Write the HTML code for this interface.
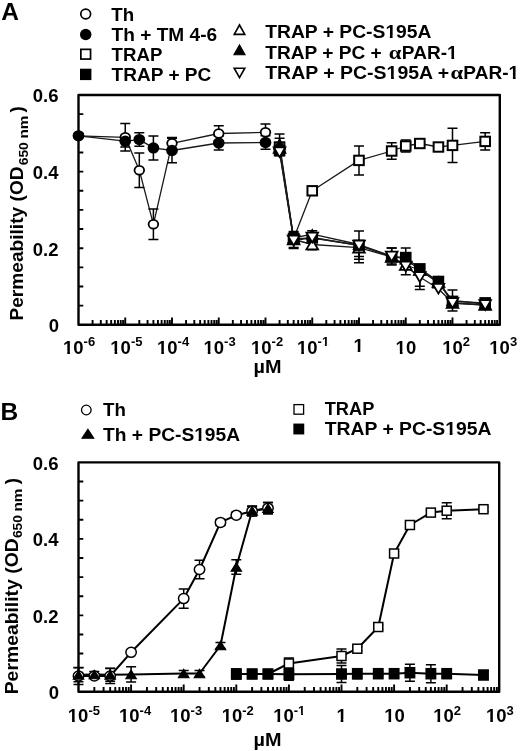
<!DOCTYPE html>
<html><head><meta charset="utf-8"><style>
html,body{margin:0;padding:0;background:#fff;width:520px;height:751px;overflow:hidden}
svg{display:block;will-change:transform}
</style></head><body>
<svg width="520" height="751" viewBox="0 0 520 751" font-family='"Liberation Sans", sans-serif' font-weight="bold">
<rect width="520" height="751" fill="#fff"/>
<text x="1.2" y="19.6" font-size="24.5" text-anchor="start">A</text>
<ellipse cx="85.70" cy="14.00" rx="4.90" ry="4.80" fill="#fff" stroke="#000" stroke-width="1.7"/>
<ellipse cx="85.70" cy="34.50" rx="5.75" ry="5.65" fill="#000"/>
<rect x="80.85" y="49.35" width="9.70" height="9.70" fill="#fff" stroke="#000" stroke-width="1.7"/>
<rect x="80.00" y="68.70" width="11.40" height="11.40" fill="#000"/>
<text x="111.33" y="20.5" font-size="17.5" textLength="22.84" lengthAdjust="spacingAndGlyphs">Th</text>
<text x="111.63" y="40.5" font-size="17.5" textLength="105.55" lengthAdjust="spacingAndGlyphs">Th + TM 4-6</text>
<text x="111.63" y="60.7" font-size="17.5" textLength="50.71" lengthAdjust="spacingAndGlyphs">TRAP</text>
<text x="111.63" y="80.8" font-size="17.5" textLength="99.66" lengthAdjust="spacingAndGlyphs">TRAP + PC</text>
<polygon points="234.20,34.40 244.80,34.40 239.50,25.00" fill="#fff" stroke="#000" stroke-width="1.6" stroke-linejoin="miter"/>
<polygon points="233.90,54.70 245.10,54.70 239.50,44.90" fill="#000" stroke="#000" stroke-width="1.08" stroke-linejoin="miter"/>
<polygon points="234.20,68.20 244.80,68.20 239.50,77.60" fill="#fff" stroke="#000" stroke-width="1.6" stroke-linejoin="miter"/>
<text x="265.22" y="37.9" font-size="17.5" textLength="166.27" lengthAdjust="spacingAndGlyphs">TRAP + PC-S195A</text>
<text x="265.23" y="58.8" font-size="17.5" textLength="116.59" lengthAdjust="spacingAndGlyphs">TRAP + PC +</text>
<text x="388.73" y="59.2" font-size="18.4" textLength="12.63" lengthAdjust="spacingAndGlyphs" font-family="Liberation Serif">α</text>
<text x="401.88" y="58.8" font-size="17.5" textLength="55.73" lengthAdjust="spacingAndGlyphs">PAR-1</text>
<text x="265.22" y="78.7" font-size="17.5" textLength="183.98" lengthAdjust="spacingAndGlyphs">TRAP + PC-S195A +</text>
<text x="450.43" y="79.1" font-size="18.4" textLength="12.63" lengthAdjust="spacingAndGlyphs" font-family="Liberation Serif">α</text>
<text x="463.38" y="78.7" font-size="17.5" textLength="55.73" lengthAdjust="spacingAndGlyphs">PAR-1</text>
<path d="M78.5,95.0 H499.8 V324.8 H78.5 Z" fill="none" stroke="#000" stroke-width="2.4" stroke-linejoin="round"/>
<path d="M78.5,305.65h4.8M78.5,286.50h4.8M78.5,267.35h4.8M78.5,248.20h4.8M78.5,229.05h4.8M78.5,209.90h4.8M78.5,190.75h4.8M78.5,171.60h4.8M78.5,152.45h4.8M78.5,133.30h4.8M78.5,114.15h4.8M92.57,324.8v-4.7M100.81,324.8v-4.7M106.65,324.8v-4.7M111.18,324.8v-4.7M114.88,324.8v-4.7M118.01,324.8v-4.7M120.72,324.8v-4.7M123.11,324.8v-4.7M125.25,324.8v-7.4M139.32,324.8v-4.7M147.56,324.8v-4.7M153.40,324.8v-4.7M157.93,324.8v-4.7M161.63,324.8v-4.7M164.76,324.8v-4.7M167.47,324.8v-4.7M169.86,324.8v-4.7M172.00,324.8v-7.4M186.07,324.8v-4.7M194.31,324.8v-4.7M200.15,324.8v-4.7M204.68,324.8v-4.7M208.38,324.8v-4.7M211.51,324.8v-4.7M214.22,324.8v-4.7M216.61,324.8v-4.7M218.75,324.8v-7.4M232.82,324.8v-4.7M241.06,324.8v-4.7M246.90,324.8v-4.7M251.43,324.8v-4.7M255.13,324.8v-4.7M258.26,324.8v-4.7M260.97,324.8v-4.7M263.36,324.8v-4.7M265.50,324.8v-7.4M279.57,324.8v-4.7M287.81,324.8v-4.7M293.65,324.8v-4.7M298.18,324.8v-4.7M301.88,324.8v-4.7M305.01,324.8v-4.7M307.72,324.8v-4.7M310.11,324.8v-4.7M312.25,324.8v-7.4M326.32,324.8v-4.7M334.56,324.8v-4.7M340.40,324.8v-4.7M344.93,324.8v-4.7M348.63,324.8v-4.7M351.76,324.8v-4.7M354.47,324.8v-4.7M356.86,324.8v-4.7M359.00,324.8v-7.4M373.07,324.8v-4.7M381.31,324.8v-4.7M387.15,324.8v-4.7M391.68,324.8v-4.7M395.38,324.8v-4.7M398.51,324.8v-4.7M401.22,324.8v-4.7M403.61,324.8v-4.7M405.75,324.8v-7.4M419.82,324.8v-4.7M428.06,324.8v-4.7M433.90,324.8v-4.7M438.43,324.8v-4.7M442.13,324.8v-4.7M445.26,324.8v-4.7M447.97,324.8v-4.7M450.36,324.8v-4.7M452.50,324.8v-7.4M466.57,324.8v-4.7M474.81,324.8v-4.7M480.65,324.8v-4.7M485.18,324.8v-4.7M488.88,324.8v-4.7M492.01,324.8v-4.7M494.72,324.8v-4.7M497.11,324.8v-4.7" fill="none" stroke="#000" stroke-width="1.9"/>
<g clip-path="none">
<polyline points="78.50,135.80 125.25,137.30 139.32,170.20 153.40,224.30 172.00,143.30 218.75,133.50 265.50,132.30" fill="none" stroke="#1a1a1a" stroke-width="1.3" stroke-linejoin="round"/>
<polyline points="78.50,135.80 125.25,141.20 139.32,139.60 153.40,147.90 172.00,150.50 218.75,143.00 265.50,142.50" fill="none" stroke="#1a1a1a" stroke-width="1.3" stroke-linejoin="round"/>
<polyline points="279.57,147.00 293.65,238.50 312.25,190.80 359.00,160.40 391.68,151.00 405.75,146.00 419.82,143.50 438.43,147.00 452.50,145.40 485.18,141.40" fill="none" stroke="#1a1a1a" stroke-width="1.3" stroke-linejoin="round"/>
<polyline points="279.57,150.60 293.65,238.80 312.25,238.00 359.00,245.20 391.68,256.80 405.75,257.50 419.82,268.80 438.43,281.40 452.50,301.30 485.18,302.80" fill="none" stroke="#1a1a1a" stroke-width="1.3" stroke-linejoin="round"/>
<polyline points="279.57,148.00 293.65,239.50 312.25,244.50 359.00,247.60 391.68,257.00 405.75,265.00 419.82,270.00 438.43,282.00 452.50,303.00 485.18,305.00" fill="none" stroke="#1a1a1a" stroke-width="1.3" stroke-linejoin="round"/>
<polyline points="279.57,144.00 293.65,238.00 312.25,234.20 359.00,244.50 391.68,256.00 405.75,259.00 419.82,270.00 438.43,283.00 452.50,300.50 485.18,304.00" fill="none" stroke="#1a1a1a" stroke-width="1.3" stroke-linejoin="round"/>
<polyline points="279.57,152.20 293.65,240.50 312.25,237.50 359.00,245.50 391.68,256.60 405.75,266.50 419.82,277.00 438.43,288.70 452.50,303.00 485.18,305.00" fill="none" stroke="#1a1a1a" stroke-width="1.3" stroke-linejoin="round"/>
<path d="M125.25,137.30V123.50M120.25,123.50h10.0M125.25,137.30V151.10M120.25,151.10h10.0M139.32,170.20V153.00M134.32,153.00h10.0M139.32,170.20V187.40M134.32,187.40h10.0M153.40,224.30V209.00M148.40,209.00h10.0M153.40,224.30V239.60M148.40,239.60h10.0M172.00,143.30V137.50M167.00,137.50h10.0M172.00,143.30V149.10M167.00,149.10h10.0M218.75,133.50V125.70M213.75,125.70h10.0M218.75,133.50V141.30M213.75,141.30h10.0M265.50,132.30V124.00M260.50,124.00h10.0M265.50,132.30V140.60M260.50,140.60h10.0" fill="none" stroke="#000" stroke-width="1.5"/>
<path d="M125.25,141.20V135.40M120.25,135.40h10.0M125.25,141.20V147.00M120.25,147.00h10.0M139.32,139.60V132.85M134.32,132.85h10.0M139.32,139.60V146.35M134.32,146.35h10.0M153.40,147.90V135.90M148.40,135.90h10.0M153.40,147.90V159.90M148.40,159.90h10.0M172.00,150.50V138.30M167.00,138.30h10.0M172.00,150.50V162.70M167.00,162.70h10.0M218.75,143.00V136.00M213.75,136.00h10.0M218.75,143.00V150.00M213.75,150.00h10.0M265.50,142.50V135.80M260.50,135.80h10.0M265.50,142.50V149.20M260.50,149.20h10.0" fill="none" stroke="#000" stroke-width="1.5"/>
<path d="M279.57,147.00V138.30M274.57,138.30h10.0M279.57,147.00V155.70M274.57,155.70h10.0M359.00,160.40V145.90M354.00,145.90h10.0M359.00,160.40V174.90M354.00,174.90h10.0M391.68,151.00V142.70M386.68,142.70h10.0M391.68,151.00V159.30M386.68,159.30h10.0M405.75,146.00V140.00M400.75,140.00h10.0M405.75,146.00V152.00M400.75,152.00h10.0M419.82,143.50V140.50M414.82,140.50h10.0M419.82,143.50V146.50M414.82,146.50h10.0M438.43,147.00V145.00M433.43,145.00h10.0M438.43,147.00V149.00M433.43,149.00h10.0M452.50,145.40V128.20M447.50,128.20h10.0M452.50,145.40V162.60M447.50,162.60h10.0M485.18,141.40V132.80M480.18,132.80h10.0M485.18,141.40V150.00M480.18,150.00h10.0" fill="none" stroke="#000" stroke-width="1.5"/>
<path d="M359.00,245.20V231.10M354.00,231.10h10.0M359.00,245.20V259.30M354.00,259.30h10.0M405.75,257.50V248.10M400.75,248.10h10.0M405.75,257.50V266.90M400.75,266.90h10.0" fill="none" stroke="#000" stroke-width="1.5"/>
<path d="M293.65,239.50V231.60M288.65,231.60h10.0M293.65,239.50V247.40M288.65,247.40h10.0M312.25,244.50V249.80M307.25,249.80h10.0M359.00,247.60V256.60M354.00,256.60h10.0M419.82,270.00V289.50M414.82,289.50h10.0" fill="none" stroke="#000" stroke-width="1.5"/>
<path d="M279.57,144.00V134.00M274.57,134.00h10.0M279.57,144.00V154.00M274.57,154.00h10.0M312.25,234.20V230.80M307.25,230.80h10.0M312.25,234.20V237.60M307.25,237.60h10.0M391.68,256.00V248.00M386.68,248.00h10.0M391.68,256.00V264.00M386.68,264.00h10.0M452.50,300.50V290.10M447.50,290.10h10.0M452.50,300.50V310.90M447.50,310.90h10.0" fill="none" stroke="#000" stroke-width="1.5"/>
<path d="M293.65,240.50V232.50M288.65,232.50h10.0M293.65,240.50V248.50M288.65,248.50h10.0M312.25,237.50V232.50M307.25,232.50h10.0M359.00,245.50V262.70M354.00,262.70h10.0M391.68,256.60V248.10M386.68,248.10h10.0M391.68,256.60V265.10M386.68,265.10h10.0M405.75,266.50V258.20M400.75,258.20h10.0M405.75,266.50V274.80M400.75,274.80h10.0M419.82,277.00V267.80M414.82,267.80h10.0M419.82,277.00V286.20M414.82,286.20h10.0" fill="none" stroke="#000" stroke-width="1.5"/>
<ellipse cx="78.50" cy="135.80" rx="4.80" ry="4.40" fill="#fff" stroke="#000" stroke-width="1.8"/>
<ellipse cx="125.25" cy="137.30" rx="4.80" ry="4.40" fill="#fff" stroke="#000" stroke-width="1.8"/>
<ellipse cx="139.32" cy="170.20" rx="4.80" ry="4.40" fill="#fff" stroke="#000" stroke-width="1.8"/>
<ellipse cx="153.40" cy="224.30" rx="4.80" ry="4.40" fill="#fff" stroke="#000" stroke-width="1.8"/>
<ellipse cx="172.00" cy="143.30" rx="4.80" ry="4.40" fill="#fff" stroke="#000" stroke-width="1.8"/>
<ellipse cx="218.75" cy="133.50" rx="4.80" ry="4.40" fill="#fff" stroke="#000" stroke-width="1.8"/>
<ellipse cx="265.50" cy="132.30" rx="4.80" ry="4.40" fill="#fff" stroke="#000" stroke-width="1.8"/>
<ellipse cx="78.50" cy="135.80" rx="5.85" ry="5.65" fill="#000"/>
<ellipse cx="125.25" cy="141.20" rx="5.85" ry="5.65" fill="#000"/>
<ellipse cx="139.32" cy="139.60" rx="5.85" ry="5.65" fill="#000"/>
<ellipse cx="153.40" cy="147.90" rx="5.85" ry="5.65" fill="#000"/>
<ellipse cx="172.00" cy="150.50" rx="5.85" ry="5.65" fill="#000"/>
<ellipse cx="218.75" cy="143.00" rx="5.85" ry="5.65" fill="#000"/>
<ellipse cx="265.50" cy="142.50" rx="5.85" ry="5.65" fill="#000"/>
<rect x="274.77" y="142.30" width="9.60" height="9.40" fill="#fff" stroke="#000" stroke-width="2.0"/>
<polygon points="273.77,152.90 285.37,152.90 279.57,143.10" fill="#fff" stroke="#000" stroke-width="1.8" stroke-linejoin="miter"/>
<rect x="273.77" y="144.90" width="11.60" height="11.40" fill="#000"/>
<polygon points="273.77,148.90 285.37,148.90 279.57,139.10" fill="#000" stroke="#000" stroke-width="1.08" stroke-linejoin="miter"/>
<polygon points="273.77,147.30 285.37,147.30 279.57,157.10" fill="#fff" stroke="#000" stroke-width="1.8" stroke-linejoin="miter"/>
<rect x="288.85" y="233.80" width="9.60" height="9.40" fill="#fff" stroke="#000" stroke-width="2.0"/>
<polygon points="287.85,244.40 299.45,244.40 293.65,234.60" fill="#fff" stroke="#000" stroke-width="1.8" stroke-linejoin="miter"/>
<polygon points="287.85,242.90 299.45,242.90 293.65,233.10" fill="#000" stroke="#000" stroke-width="1.08" stroke-linejoin="miter"/>
<rect x="287.85" y="233.10" width="11.60" height="11.40" fill="#000"/>
<polygon points="287.85,235.60 299.45,235.60 293.65,245.40" fill="#fff" stroke="#000" stroke-width="1.8" stroke-linejoin="miter"/>
<rect x="307.45" y="186.10" width="9.60" height="9.40" fill="#fff" stroke="#000" stroke-width="2.0"/>
<rect x="306.45" y="232.30" width="11.60" height="11.40" fill="#000"/>
<polygon points="306.45,239.10 318.05,239.10 312.25,229.30" fill="#000" stroke="#000" stroke-width="1.08" stroke-linejoin="miter"/>
<polygon points="306.45,249.40 318.05,249.40 312.25,239.60" fill="#fff" stroke="#000" stroke-width="1.8" stroke-linejoin="miter"/>
<polygon points="306.45,232.60 318.05,232.60 312.25,242.40" fill="#fff" stroke="#000" stroke-width="1.8" stroke-linejoin="miter"/>
<rect x="354.20" y="155.70" width="9.60" height="9.40" fill="#fff" stroke="#000" stroke-width="2.0"/>
<polygon points="353.20,252.50 364.80,252.50 359.00,242.70" fill="#fff" stroke="#000" stroke-width="1.8" stroke-linejoin="miter"/>
<polygon points="353.20,249.40 364.80,249.40 359.00,239.60" fill="#000" stroke="#000" stroke-width="1.08" stroke-linejoin="miter"/>
<rect x="353.20" y="239.50" width="11.60" height="11.40" fill="#000"/>
<polygon points="353.20,240.60 364.80,240.60 359.00,250.40" fill="#fff" stroke="#000" stroke-width="1.8" stroke-linejoin="miter"/>
<rect x="386.88" y="146.30" width="9.60" height="9.40" fill="#fff" stroke="#000" stroke-width="2.0"/>
<polygon points="385.88,261.90 397.48,261.90 391.68,252.10" fill="#fff" stroke="#000" stroke-width="1.8" stroke-linejoin="miter"/>
<polygon points="385.88,260.90 397.48,260.90 391.68,251.10" fill="#000" stroke="#000" stroke-width="1.08" stroke-linejoin="miter"/>
<rect x="385.88" y="251.10" width="11.60" height="11.40" fill="#000"/>
<polygon points="385.88,251.70 397.48,251.70 391.68,261.50" fill="#fff" stroke="#000" stroke-width="1.8" stroke-linejoin="miter"/>
<rect x="400.95" y="141.30" width="9.60" height="9.40" fill="#fff" stroke="#000" stroke-width="2.0"/>
<polygon points="399.95,269.90 411.55,269.90 405.75,260.10" fill="#fff" stroke="#000" stroke-width="1.8" stroke-linejoin="miter"/>
<polygon points="399.95,263.90 411.55,263.90 405.75,254.10" fill="#000" stroke="#000" stroke-width="1.08" stroke-linejoin="miter"/>
<rect x="399.95" y="251.80" width="11.60" height="11.40" fill="#000"/>
<polygon points="399.95,261.60 411.55,261.60 405.75,271.40" fill="#fff" stroke="#000" stroke-width="1.8" stroke-linejoin="miter"/>
<rect x="415.02" y="138.80" width="9.60" height="9.40" fill="#fff" stroke="#000" stroke-width="2.0"/>
<polygon points="414.02,274.90 425.62,274.90 419.82,265.10" fill="#fff" stroke="#000" stroke-width="1.8" stroke-linejoin="miter"/>
<polygon points="414.02,274.90 425.62,274.90 419.82,265.10" fill="#000" stroke="#000" stroke-width="1.08" stroke-linejoin="miter"/>
<rect x="414.02" y="263.10" width="11.60" height="11.40" fill="#000"/>
<polygon points="414.02,272.10 425.62,272.10 419.82,281.90" fill="#fff" stroke="#000" stroke-width="1.8" stroke-linejoin="miter"/>
<rect x="433.63" y="142.30" width="9.60" height="9.40" fill="#fff" stroke="#000" stroke-width="2.0"/>
<polygon points="432.63,286.90 444.23,286.90 438.43,277.10" fill="#fff" stroke="#000" stroke-width="1.8" stroke-linejoin="miter"/>
<polygon points="432.63,287.90 444.23,287.90 438.43,278.10" fill="#000" stroke="#000" stroke-width="1.08" stroke-linejoin="miter"/>
<rect x="432.63" y="275.70" width="11.60" height="11.40" fill="#000"/>
<polygon points="432.63,283.80 444.23,283.80 438.43,293.60" fill="#fff" stroke="#000" stroke-width="1.8" stroke-linejoin="miter"/>
<rect x="447.70" y="140.70" width="9.60" height="9.40" fill="#fff" stroke="#000" stroke-width="2.0"/>
<polygon points="446.70,307.90 458.30,307.90 452.50,298.10" fill="#fff" stroke="#000" stroke-width="1.8" stroke-linejoin="miter"/>
<polygon points="446.70,305.40 458.30,305.40 452.50,295.60" fill="#000" stroke="#000" stroke-width="1.08" stroke-linejoin="miter"/>
<rect x="446.70" y="295.60" width="11.60" height="11.40" fill="#000"/>
<polygon points="446.70,298.10 458.30,298.10 452.50,307.90" fill="#fff" stroke="#000" stroke-width="1.8" stroke-linejoin="miter"/>
<rect x="480.38" y="136.70" width="9.60" height="9.40" fill="#fff" stroke="#000" stroke-width="2.0"/>
<polygon points="479.38,309.90 490.98,309.90 485.18,300.10" fill="#fff" stroke="#000" stroke-width="1.8" stroke-linejoin="miter"/>
<polygon points="479.38,308.90 490.98,308.90 485.18,299.10" fill="#000" stroke="#000" stroke-width="1.08" stroke-linejoin="miter"/>
<rect x="479.38" y="297.10" width="11.60" height="11.40" fill="#000"/>
<polygon points="479.38,300.10 490.98,300.10 485.18,309.90" fill="#fff" stroke="#000" stroke-width="1.8" stroke-linejoin="miter"/>
</g>
<text x="58.5" y="102.4" font-size="18.5" text-anchor="end">0.6</text>
<text x="58.5" y="179.0" font-size="18.5" text-anchor="end">0.4</text>
<text x="58.5" y="255.6" font-size="18.5" text-anchor="end">0.2</text>
<text x="59.0" y="332.2" font-size="18.5" text-anchor="end">0</text>
<text x="63.0" y="353.6" font-size="18.5">10<tspan font-size="13" dy="-7.5">-6</tspan></text>
<text x="110.3" y="353.6" font-size="18.5">10<tspan font-size="13" dy="-7.5">-5</tspan></text>
<text x="157.0" y="353.6" font-size="18.5">10<tspan font-size="13" dy="-7.5">-4</tspan></text>
<text x="203.5" y="353.6" font-size="18.5">10<tspan font-size="13" dy="-7.5">-3</tspan></text>
<text x="251.0" y="353.6" font-size="18.5">10<tspan font-size="13" dy="-7.5">-2</tspan></text>
<text x="297.0" y="353.6" font-size="18.5">10<tspan font-size="13" dy="-7.5">-1</tspan></text>
<text x="353.4" y="352.0" font-size="18.5" text-anchor="start">1</text>
<text x="395.6" y="353.6" font-size="18.5">10</text>
<text x="442.2" y="353.6" font-size="18.5">10<tspan font-size="13" dy="-7.5">2</tspan></text>
<text x="489.3" y="353.6" font-size="18.5">10<tspan font-size="13" dy="-7.5">3</tspan></text>
<text x="253.6" y="373.2" font-size="18.5" text-anchor="start" textLength="28" lengthAdjust="spacingAndGlyphs">µM</text>
<text transform="translate(23.35,320.6) rotate(-90)" font-size="18.8" textLength="154.2" lengthAdjust="spacingAndGlyphs">Permeability (OD</text>
<text transform="translate(27.7,165.3) rotate(-90)" font-size="13" textLength="23.1" lengthAdjust="spacingAndGlyphs">650</text>
<text transform="translate(27.7,138.6) rotate(-90)" font-size="13" textLength="22.9" lengthAdjust="spacingAndGlyphs">nm</text>
<text transform="translate(23.35,112.6) rotate(-90)" font-size="18.8">)</text>
<text x="0.6" y="420.2" font-size="24.5" text-anchor="start">B</text>
<ellipse cx="86.30" cy="410.00" rx="4.80" ry="4.80" fill="#fff" stroke="#000" stroke-width="1.3"/>
<text x="103.13" y="416.1" font-size="17.5" textLength="22.84" lengthAdjust="spacingAndGlyphs">Th</text>
<polygon points="82.00,438.30 93.80,438.30 87.90,429.30" fill="#000" stroke="#000" stroke-width="1.08" stroke-linejoin="miter"/>
<text x="103.13" y="440.9" font-size="17.5" textLength="136.89" lengthAdjust="spacingAndGlyphs">Th + PC-S195A</text>
<rect x="294.00" y="404.60" width="9.60" height="9.60" fill="#fff" stroke="#000" stroke-width="1.3"/>
<text x="324.74" y="414.9" font-size="17.5" textLength="49.60" lengthAdjust="spacingAndGlyphs">TRAP</text>
<rect x="293.35" y="423.55" width="10.90" height="10.90" fill="#000"/>
<text x="324.72" y="435.3" font-size="17.5" textLength="166.77" lengthAdjust="spacingAndGlyphs">TRAP + PC-S195A</text>
<path d="M78.5,462.4 H499.2 V691.8 H78.5 Z" fill="none" stroke="#000" stroke-width="2.4" stroke-linejoin="round"/>
<path d="M78.5,672.68h4.8M78.5,653.57h4.8M78.5,634.45h4.8M78.5,615.33h4.8M78.5,596.22h4.8M78.5,577.10h4.8M78.5,557.98h4.8M78.5,538.87h4.8M78.5,519.75h4.8M78.5,500.63h4.8M78.5,481.52h4.8M94.33,691.8v-4.7M103.60,691.8v-4.7M110.17,691.8v-4.7M115.27,691.8v-4.7M119.43,691.8v-4.7M122.95,691.8v-4.7M126.00,691.8v-4.7M128.69,691.8v-4.7M131.10,691.8v-7.4M146.93,691.8v-4.7M156.20,691.8v-4.7M162.77,691.8v-4.7M167.87,691.8v-4.7M172.03,691.8v-4.7M175.55,691.8v-4.7M178.60,691.8v-4.7M181.29,691.8v-4.7M183.70,691.8v-7.4M199.53,691.8v-4.7M208.80,691.8v-4.7M215.37,691.8v-4.7M220.47,691.8v-4.7M224.63,691.8v-4.7M228.15,691.8v-4.7M231.20,691.8v-4.7M233.89,691.8v-4.7M236.30,691.8v-7.4M252.13,691.8v-4.7M261.40,691.8v-4.7M267.97,691.8v-4.7M273.07,691.8v-4.7M277.23,691.8v-4.7M280.75,691.8v-4.7M283.80,691.8v-4.7M286.49,691.8v-4.7M288.90,691.8v-7.4M304.73,691.8v-4.7M314.00,691.8v-4.7M320.57,691.8v-4.7M325.67,691.8v-4.7M329.83,691.8v-4.7M333.35,691.8v-4.7M336.40,691.8v-4.7M339.09,691.8v-4.7M341.50,691.8v-7.4M357.33,691.8v-4.7M366.60,691.8v-4.7M373.17,691.8v-4.7M378.27,691.8v-4.7M382.43,691.8v-4.7M385.95,691.8v-4.7M389.00,691.8v-4.7M391.69,691.8v-4.7M394.10,691.8v-7.4M409.93,691.8v-4.7M419.20,691.8v-4.7M425.77,691.8v-4.7M430.87,691.8v-4.7M435.03,691.8v-4.7M438.55,691.8v-4.7M441.60,691.8v-4.7M444.29,691.8v-4.7M446.70,691.8v-7.4M462.53,691.8v-4.7M471.80,691.8v-4.7M478.37,691.8v-4.7M483.47,691.8v-4.7M487.63,691.8v-4.7M491.15,691.8v-4.7M494.20,691.8v-4.7M496.89,691.8v-4.7" fill="none" stroke="#000" stroke-width="1.9"/>
<polyline points="78.50,676.00 94.33,676.00 110.17,676.00 131.10,652.30 183.70,598.60 199.53,569.50 220.47,522.40 236.30,515.20 252.13,511.20 267.97,508.20" fill="none" stroke="#000" stroke-width="2.0" stroke-linejoin="round"/>
<polyline points="78.50,674.80 94.33,674.50 110.17,674.80 131.10,674.40 183.70,673.50 199.53,673.50 220.47,645.50 236.30,567.00 252.13,510.80 267.97,508.20" fill="none" stroke="#000" stroke-width="2.0" stroke-linejoin="round"/>
<polyline points="236.30,674.00 252.13,674.00 267.97,674.00 288.90,663.50 341.50,656.00 357.33,648.70 378.27,627.00 394.10,553.50 409.93,525.00 430.87,512.60 446.70,510.70 483.47,509.20" fill="none" stroke="#000" stroke-width="2.0" stroke-linejoin="round"/>
<polyline points="236.30,674.00 252.13,674.00 267.97,674.00 288.90,674.30 341.50,674.00 357.33,673.70 378.27,673.70 394.10,673.70 409.93,672.70 430.87,673.70 446.70,673.70 483.47,675.00" fill="none" stroke="#000" stroke-width="2.0" stroke-linejoin="round"/>
<path d="M78.50,676.00V667.50M73.50,667.50h10.0M78.50,676.00V684.50M73.50,684.50h10.0M94.33,676.00V674.00M89.33,674.00h10.0M94.33,676.00V678.00M89.33,678.00h10.0M110.17,676.00V668.50M105.17,668.50h10.0M110.17,676.00V683.50M105.17,683.50h10.0M183.70,598.60V588.90M178.70,588.90h10.0M183.70,598.60V608.30M178.70,608.30h10.0M199.53,569.50V560.20M194.53,560.20h10.0M199.53,569.50V578.80M194.53,578.80h10.0M220.47,522.40V519.40M215.47,519.40h10.0M220.47,522.40V525.40M215.47,525.40h10.0M236.30,515.20V512.20M231.30,512.20h10.0M236.30,515.20V518.20M231.30,518.20h10.0M252.13,511.20V506.40M247.13,506.40h10.0M252.13,511.20V516.00M247.13,516.00h10.0M267.97,508.20V502.60M262.97,502.60h10.0M267.97,508.20V513.80M262.97,513.80h10.0" fill="none" stroke="#000" stroke-width="1.5"/>
<path d="M78.50,674.80V667.80M73.50,667.80h10.0M78.50,674.80V681.80M73.50,681.80h10.0M94.33,674.50V671.50M89.33,671.50h10.0M94.33,674.50V677.50M89.33,677.50h10.0M110.17,674.80V668.30M105.17,668.30h10.0M110.17,674.80V681.30M105.17,681.30h10.0M131.10,674.40V666.80M126.10,666.80h10.0M131.10,674.40V682.00M126.10,682.00h10.0M183.70,673.50V670.50M178.70,670.50h10.0M183.70,673.50V676.50M178.70,676.50h10.0M199.53,673.50V670.50M194.53,670.50h10.0M199.53,673.50V676.50M194.53,676.50h10.0M220.47,645.50V642.50M215.47,642.50h10.0M220.47,645.50V648.50M215.47,648.50h10.0M236.30,567.00V559.70M231.30,559.70h10.0M236.30,567.00V574.30M231.30,574.30h10.0M252.13,510.80V506.00M247.13,506.00h10.0M252.13,510.80V515.60M247.13,515.60h10.0M267.97,508.20V502.60M262.97,502.60h10.0M267.97,508.20V513.80M262.97,513.80h10.0" fill="none" stroke="#000" stroke-width="1.5"/>
<path d="M288.90,663.50V658.00M283.90,658.00h10.0M288.90,663.50V669.00M283.90,669.00h10.0M341.50,656.00V649.00M336.50,649.00h10.0M341.50,656.00V663.00M336.50,663.00h10.0M357.33,648.70V646.70M352.33,646.70h10.0M357.33,648.70V650.70M352.33,650.70h10.0M378.27,627.00V625.00M373.27,625.00h10.0M378.27,627.00V629.00M373.27,629.00h10.0M394.10,553.50V551.50M389.10,551.50h10.0M394.10,553.50V555.50M389.10,555.50h10.0M409.93,525.00V523.00M404.93,523.00h10.0M409.93,525.00V527.00M404.93,527.00h10.0M430.87,512.60V510.60M425.87,510.60h10.0M430.87,512.60V514.60M425.87,514.60h10.0M446.70,510.70V502.70M441.70,502.70h10.0M446.70,510.70V518.70M441.70,518.70h10.0M483.47,509.20V507.20M478.47,507.20h10.0M483.47,509.20V511.20M478.47,511.20h10.0" fill="none" stroke="#000" stroke-width="1.5"/>
<path d="M236.30,674.00V669.00M231.30,669.00h10.0M236.30,674.00V679.00M231.30,679.00h10.0M252.13,674.00V670.00M247.13,670.00h10.0M252.13,674.00V678.00M247.13,678.00h10.0M267.97,674.00V670.00M262.97,670.00h10.0M267.97,674.00V678.00M262.97,678.00h10.0M288.90,674.30V668.30M283.90,668.30h10.0M288.90,674.30V680.30M283.90,680.30h10.0M341.50,674.00V665.50M336.50,665.50h10.0M341.50,674.00V682.50M336.50,682.50h10.0M357.33,673.70V668.70M352.33,668.70h10.0M357.33,673.70V678.70M352.33,678.70h10.0M378.27,673.70V671.70M373.27,671.70h10.0M378.27,673.70V675.70M373.27,675.70h10.0M394.10,673.70V669.70M389.10,669.70h10.0M394.10,673.70V677.70M389.10,677.70h10.0M409.93,672.70V664.20M404.93,664.20h10.0M409.93,672.70V681.20M404.93,681.20h10.0M430.87,673.70V664.70M425.87,664.70h10.0M430.87,673.70V682.70M425.87,682.70h10.0M446.70,673.70V670.70M441.70,670.70h10.0M446.70,673.70V676.70M441.70,676.70h10.0M483.47,675.00V671.00M478.47,671.00h10.0M483.47,675.00V679.00M478.47,679.00h10.0" fill="none" stroke="#000" stroke-width="1.5"/>
<rect x="231.80" y="669.50" width="9.00" height="9.00" fill="#fff" stroke="#000" stroke-width="1.5"/>
<rect x="247.63" y="669.50" width="9.00" height="9.00" fill="#fff" stroke="#000" stroke-width="1.5"/>
<rect x="263.47" y="669.50" width="9.00" height="9.00" fill="#fff" stroke="#000" stroke-width="1.5"/>
<rect x="284.40" y="659.00" width="9.00" height="9.00" fill="#fff" stroke="#000" stroke-width="1.5"/>
<rect x="337.00" y="651.50" width="9.00" height="9.00" fill="#fff" stroke="#000" stroke-width="1.5"/>
<rect x="352.83" y="644.20" width="9.00" height="9.00" fill="#fff" stroke="#000" stroke-width="1.5"/>
<rect x="373.77" y="622.50" width="9.00" height="9.00" fill="#fff" stroke="#000" stroke-width="1.5"/>
<rect x="389.60" y="549.00" width="9.00" height="9.00" fill="#fff" stroke="#000" stroke-width="1.5"/>
<rect x="405.43" y="520.50" width="9.00" height="9.00" fill="#fff" stroke="#000" stroke-width="1.5"/>
<rect x="426.37" y="508.10" width="9.00" height="9.00" fill="#fff" stroke="#000" stroke-width="1.5"/>
<rect x="442.20" y="506.20" width="9.00" height="9.00" fill="#fff" stroke="#000" stroke-width="1.5"/>
<rect x="478.97" y="504.70" width="9.00" height="9.00" fill="#fff" stroke="#000" stroke-width="1.5"/>
<rect x="230.85" y="668.25" width="10.90" height="11.50" fill="#000"/>
<rect x="246.68" y="668.25" width="10.90" height="11.50" fill="#000"/>
<rect x="262.52" y="668.25" width="10.90" height="11.50" fill="#000"/>
<rect x="283.45" y="668.55" width="10.90" height="11.50" fill="#000"/>
<rect x="336.05" y="668.25" width="10.90" height="11.50" fill="#000"/>
<rect x="351.88" y="667.95" width="10.90" height="11.50" fill="#000"/>
<rect x="372.82" y="667.95" width="10.90" height="11.50" fill="#000"/>
<rect x="388.65" y="667.95" width="10.90" height="11.50" fill="#000"/>
<rect x="404.48" y="666.95" width="10.90" height="11.50" fill="#000"/>
<rect x="425.42" y="667.95" width="10.90" height="11.50" fill="#000"/>
<rect x="441.25" y="667.95" width="10.90" height="11.50" fill="#000"/>
<rect x="478.02" y="669.25" width="10.90" height="11.50" fill="#000"/>
<ellipse cx="78.50" cy="676.00" rx="5.20" ry="5.00" fill="#fff" stroke="#000" stroke-width="1.5"/>
<ellipse cx="94.33" cy="676.00" rx="5.20" ry="5.00" fill="#fff" stroke="#000" stroke-width="1.5"/>
<ellipse cx="110.17" cy="676.00" rx="5.20" ry="5.00" fill="#fff" stroke="#000" stroke-width="1.5"/>
<ellipse cx="131.10" cy="652.30" rx="5.20" ry="5.00" fill="#fff" stroke="#000" stroke-width="1.5"/>
<ellipse cx="183.70" cy="598.60" rx="5.20" ry="5.00" fill="#fff" stroke="#000" stroke-width="1.5"/>
<ellipse cx="199.53" cy="569.50" rx="5.20" ry="5.00" fill="#fff" stroke="#000" stroke-width="1.5"/>
<ellipse cx="220.47" cy="522.40" rx="5.20" ry="5.00" fill="#fff" stroke="#000" stroke-width="1.5"/>
<ellipse cx="236.30" cy="515.20" rx="5.20" ry="5.00" fill="#fff" stroke="#000" stroke-width="1.5"/>
<ellipse cx="252.13" cy="511.20" rx="5.20" ry="5.00" fill="#fff" stroke="#000" stroke-width="1.5"/>
<ellipse cx="267.97" cy="508.20" rx="5.20" ry="5.00" fill="#fff" stroke="#000" stroke-width="1.5"/>
<polygon points="73.20,679.10 83.80,679.10 78.50,670.50" fill="#000" stroke="#000" stroke-width="1.08" stroke-linejoin="miter"/>
<polygon points="89.03,678.80 99.63,678.80 94.33,670.20" fill="#000" stroke="#000" stroke-width="1.08" stroke-linejoin="miter"/>
<polygon points="104.87,679.10 115.47,679.10 110.17,670.50" fill="#000" stroke="#000" stroke-width="1.08" stroke-linejoin="miter"/>
<polygon points="125.80,678.70 136.40,678.70 131.10,670.10" fill="#000" stroke="#000" stroke-width="1.08" stroke-linejoin="miter"/>
<polygon points="178.40,677.80 189.00,677.80 183.70,669.20" fill="#000" stroke="#000" stroke-width="1.08" stroke-linejoin="miter"/>
<polygon points="194.23,677.80 204.83,677.80 199.53,669.20" fill="#000" stroke="#000" stroke-width="1.08" stroke-linejoin="miter"/>
<polygon points="215.17,649.80 225.77,649.80 220.47,641.20" fill="#000" stroke="#000" stroke-width="1.08" stroke-linejoin="miter"/>
<polygon points="231.00,571.30 241.60,571.30 236.30,562.70" fill="#000" stroke="#000" stroke-width="1.08" stroke-linejoin="miter"/>
<polygon points="246.83,515.10 257.43,515.10 252.13,506.50" fill="#000" stroke="#000" stroke-width="1.08" stroke-linejoin="miter"/>
<polygon points="262.67,512.50 273.27,512.50 267.97,503.90" fill="#000" stroke="#000" stroke-width="1.08" stroke-linejoin="miter"/>
<text x="58.5" y="469.8" font-size="18.5" text-anchor="end">0.6</text>
<text x="58.5" y="546.3" font-size="18.5" text-anchor="end">0.4</text>
<text x="58.5" y="622.7" font-size="18.5" text-anchor="end">0.2</text>
<text x="59.0" y="699.2" font-size="18.5" text-anchor="end">0</text>
<text x="67.8" y="722.2" font-size="18.5">10<tspan font-size="13" dy="-7.5">-5</tspan></text>
<text x="119.0" y="722.2" font-size="18.5">10<tspan font-size="13" dy="-7.5">-4</tspan></text>
<text x="170.0" y="722.2" font-size="18.5">10<tspan font-size="13" dy="-7.5">-3</tspan></text>
<text x="221.7" y="722.2" font-size="18.5">10<tspan font-size="13" dy="-7.5">-2</tspan></text>
<text x="273.2" y="722.2" font-size="18.5">10<tspan font-size="13" dy="-7.5">-1</tspan></text>
<text x="336.4" y="721.6" font-size="18.5" text-anchor="start">1</text>
<text x="384.2" y="722.2" font-size="18.5">10</text>
<text x="433.2" y="722.2" font-size="18.5">10<tspan font-size="13" dy="-7.5">2</tspan></text>
<text x="486.0" y="722.2" font-size="18.5">10<tspan font-size="13" dy="-7.5">3</tspan></text>
<text x="253.6" y="745.7" font-size="18.5" text-anchor="start" textLength="28" lengthAdjust="spacingAndGlyphs">µM</text>
<text transform="translate(17.5,694.3) rotate(-90)" font-size="18.8" textLength="156.0" lengthAdjust="spacingAndGlyphs">Permeability (OD</text>
<text transform="translate(22.2,538.1) rotate(-90)" font-size="13" textLength="23.1" lengthAdjust="spacingAndGlyphs">650</text>
<text transform="translate(22.2,511.6) rotate(-90)" font-size="13" textLength="22.9" lengthAdjust="spacingAndGlyphs">nm</text>
<text transform="translate(17.5,484.3) rotate(-90)" font-size="18.8">)</text>
<!--ONEFIX--><g><rect x="385.79" y="35.66" width="4.04" height="3.24" fill="#fff"/><rect x="392.58" y="35.66" width="3.80" height="3.24" fill="#fff"/><rect x="447.40" y="56.56" width="4.00" height="3.24" fill="#fff"/><rect x="454.12" y="56.56" width="3.76" height="3.24" fill="#fff"/><rect x="386.99" y="76.46" width="4.07" height="3.24" fill="#fff"/><rect x="393.84" y="76.46" width="3.83" height="3.24" fill="#fff"/><rect x="508.90" y="76.46" width="4.00" height="3.24" fill="#fff"/><rect x="515.62" y="76.46" width="3.76" height="3.24" fill="#fff"/><rect x="63.37" y="351.26" width="3.91" height="3.34" fill="#fff"/><rect x="69.91" y="351.26" width="3.67" height="3.34" fill="#fff"/><rect x="110.67" y="351.26" width="3.91" height="3.34" fill="#fff"/><rect x="117.21" y="351.26" width="3.67" height="3.34" fill="#fff"/><rect x="157.37" y="351.26" width="3.91" height="3.34" fill="#fff"/><rect x="163.91" y="351.26" width="3.67" height="3.34" fill="#fff"/><rect x="203.87" y="351.26" width="3.91" height="3.34" fill="#fff"/><rect x="210.41" y="351.26" width="3.67" height="3.34" fill="#fff"/><rect x="251.37" y="351.26" width="3.91" height="3.34" fill="#fff"/><rect x="257.91" y="351.26" width="3.67" height="3.34" fill="#fff"/><rect x="297.37" y="351.26" width="3.91" height="3.34" fill="#fff"/><rect x="303.91" y="351.26" width="3.67" height="3.34" fill="#fff"/><rect x="321.93" y="344.32" width="2.97" height="2.78" fill="#fff"/><rect x="326.78" y="344.32" width="2.80" height="2.78" fill="#fff"/><rect x="353.77" y="349.66" width="3.91" height="3.34" fill="#fff"/><rect x="360.31" y="349.66" width="3.67" height="3.34" fill="#fff"/><rect x="395.97" y="351.26" width="3.91" height="3.34" fill="#fff"/><rect x="402.51" y="351.26" width="3.67" height="3.34" fill="#fff"/><rect x="442.57" y="351.26" width="3.91" height="3.34" fill="#fff"/><rect x="449.11" y="351.26" width="3.67" height="3.34" fill="#fff"/><rect x="489.67" y="351.26" width="3.91" height="3.34" fill="#fff"/><rect x="496.21" y="351.26" width="3.67" height="3.34" fill="#fff"/><rect x="194.58" y="438.66" width="4.02" height="3.24" fill="#fff"/><rect x="201.34" y="438.66" width="3.78" height="3.24" fill="#fff"/><rect x="445.66" y="433.06" width="4.05" height="3.24" fill="#fff"/><rect x="452.46" y="433.06" width="3.81" height="3.24" fill="#fff"/><rect x="68.17" y="719.86" width="3.91" height="3.34" fill="#fff"/><rect x="74.71" y="719.86" width="3.67" height="3.34" fill="#fff"/><rect x="119.37" y="719.86" width="3.91" height="3.34" fill="#fff"/><rect x="125.91" y="719.86" width="3.67" height="3.34" fill="#fff"/><rect x="170.37" y="719.86" width="3.91" height="3.34" fill="#fff"/><rect x="176.91" y="719.86" width="3.67" height="3.34" fill="#fff"/><rect x="222.07" y="719.86" width="3.91" height="3.34" fill="#fff"/><rect x="228.61" y="719.86" width="3.67" height="3.34" fill="#fff"/><rect x="273.57" y="719.86" width="3.91" height="3.34" fill="#fff"/><rect x="280.11" y="719.86" width="3.67" height="3.34" fill="#fff"/><rect x="298.13" y="712.92" width="2.97" height="2.78" fill="#fff"/><rect x="302.98" y="712.92" width="2.80" height="2.78" fill="#fff"/><rect x="336.77" y="719.26" width="3.91" height="3.34" fill="#fff"/><rect x="343.31" y="719.26" width="3.67" height="3.34" fill="#fff"/><rect x="384.57" y="719.86" width="3.91" height="3.34" fill="#fff"/><rect x="391.11" y="719.86" width="3.67" height="3.34" fill="#fff"/><rect x="433.57" y="719.86" width="3.91" height="3.34" fill="#fff"/><rect x="440.11" y="719.86" width="3.67" height="3.34" fill="#fff"/><rect x="486.37" y="719.86" width="3.91" height="3.34" fill="#fff"/><rect x="492.91" y="719.86" width="3.67" height="3.34" fill="#fff"/></g></svg>
</body></html>
